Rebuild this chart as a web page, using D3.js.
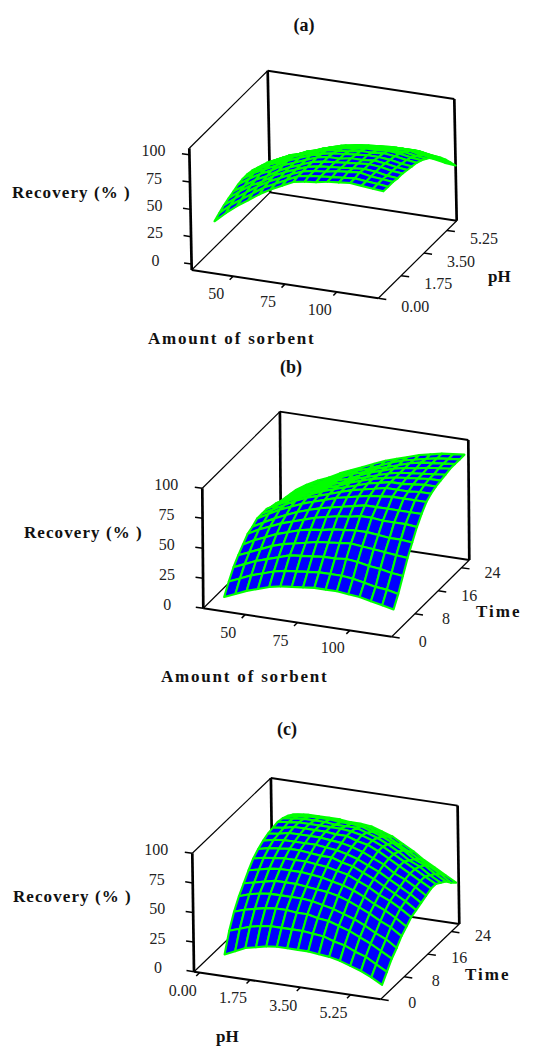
<!DOCTYPE html>
<html>
<head>
<meta charset="utf-8">
<title>Recovery surfaces</title>
<script src="https://cdn.jsdelivr.net/npm/d3@7"></script>
<style>
body { margin: 0; background: #fff; }
text { font-family: "Liberation Serif", serif; fill: #111; }
.tick-label { font-size: 16px; fill: #222; }
.axis-label { font-size: 17px; font-weight: bold; }
.panel-title { font-size: 18px; font-weight: bold; }
</style>
</head>
<body>
<div id="chart-container"></div>
<script>
// tick labels
var zTicks = [0, 25, 50, 75, 100];
var sorbentTicks = [50, 75, 100];
var phTicks = [0, 1.75, 3.5, 5.25];
var timeTicks = [0, 8, 16, 24];

// where the surface grid sits on each axis
var sorbentA = [38, 43.5, 49, 54.5, 60, 65.5, 71, 76.5, 82, 87.5, 93, 98.5, 104, 109.5, 115, 120];
var phA = [0.54, 0.9, 1.27, 1.63, 2, 2.36, 2.72, 3.09, 3.45, 3.82, 4.18, 4.55, 4.91, 5.27, 5.64, 6];
var sorbentB = [40, 45.4, 50.8, 56.2, 61.6, 67, 72.4, 77.8, 83.2, 88.6, 94, 99.4, 104.8, 110.2, 115.6, 121];
var timeB = [0, 1.64, 3.28, 4.92, 6.56, 8.2, 9.84, 11.48, 13.12, 14.76, 16.4, 18.04, 19.68, 21.32, 22.96, 24.6];
var phC = [0.82, 1.19, 1.55, 1.92, 2.28, 2.65, 3.01, 3.38, 3.74, 4.11, 4.47, 4.84, 5.2, 5.57, 5.93, 6.3];
var timeC = [0.53, 2.2, 3.9, 5.6, 7.27, 8.95, 10.6, 12.3, 14, 15.7, 17.4, 19, 20.7, 22.4, 24.1, 25.8];

// recovery (%), one row per depth step, front row first
var recoveryA = [
  [35, 44, 52, 59, 66, 72, 77, 82, 84, 85, 87, 88, 89, 88, 87, 86],
  [38, 47, 54, 61, 68, 73, 78, 83, 85, 86, 87, 88, 89, 88, 87, 86],
  [41, 49, 56, 63, 69, 74, 79, 83, 85, 86, 88, 89, 90, 88, 87, 86],
  [43, 51, 58, 63, 70, 75, 79, 83, 85, 86, 87, 88, 89, 88, 86, 85],
  [45, 52, 59, 64, 70, 75, 79, 83, 85, 86, 87, 88, 89, 88, 86, 85],
  [47, 54, 60, 65, 71, 75, 79, 83, 85, 85, 87, 87, 88, 87, 85, 84],
  [48, 55, 60, 65, 71, 75, 79, 82, 84, 85, 86, 87, 87, 86, 84, 83],
  [48, 54, 60, 64, 70, 74, 77, 81, 82, 83, 85, 85, 86, 85, 83, 82],
  [47, 53, 58, 63, 68, 72, 75, 78, 80, 81, 83, 83, 84, 83, 81, 80],
  [45, 51, 56, 60, 65, 68, 72, 75, 77, 78, 79, 80, 80, 80, 78, 77],
  [43, 48, 53, 57, 62, 65, 69, 72, 73, 75, 76, 77, 77, 77, 75, 74],
  [41, 46, 51, 54, 58, 62, 65, 68, 70, 71, 72, 73, 73, 73, 71, 70],
  [38, 43, 47, 50, 54, 57, 60, 63, 65, 66, 67, 68, 68, 68, 66, 65],
  [35, 39, 43, 46, 50, 52, 55, 58, 59, 60, 62, 62, 63, 62, 60, 59],
  [32, 36, 39, 42, 45, 47, 50, 52, 53, 54, 56, 56, 56, 55, 53, 52],
  [29, 32, 35, 37, 40, 42, 44, 46, 47, 48, 49, 49, 49, 48, 46, 45]
];
var recoveryB = [
  [12, 16, 20, 23, 26, 28, 29, 30, 31, 31, 31, 30, 29, 27, 25, 23],
  [21, 25, 29, 32, 35, 37, 38, 39, 40, 40, 40, 39, 37, 35, 34, 32],
  [29, 33, 37, 40, 43, 46, 47, 48, 49, 49, 50, 49, 47, 46, 44, 43],
  [35, 39, 43, 47, 50, 52, 54, 56, 57, 58, 59, 58, 57, 56, 55, 54],
  [40, 45, 49, 53, 56, 59, 61, 62, 64, 65, 66, 66, 65, 64, 64, 63],
  [45, 50, 54, 58, 61, 64, 67, 69, 71, 72, 74, 74, 73, 73, 73, 72],
  [47, 52, 57, 61, 65, 68, 71, 73, 75, 77, 79, 79, 79, 79, 79, 79],
  [50, 55, 60, 64, 68, 71, 74, 77, 79, 81, 83, 84, 85, 85, 85, 85],
  [50, 55, 60, 65, 69, 72, 75, 78, 81, 83, 85, 87, 87, 87, 88, 88],
  [50, 55, 60, 64, 68, 72, 75, 78, 81, 84, 86, 88, 88, 89, 90, 90],
  [48, 54, 59, 63, 67, 71, 74, 78, 81, 84, 86, 88, 89, 90, 91, 91],
  [47, 52, 57, 62, 66, 70, 73, 77, 80, 83, 86, 88, 89, 90, 91, 92],
  [45, 51, 56, 60, 65, 69, 72, 76, 80, 83, 86, 88, 89, 91, 92, 93],
  [44, 50, 55, 59, 64, 68, 72, 75, 79, 82, 85, 88, 90, 91, 92, 93],
  [43, 49, 54, 58, 63, 67, 71, 74, 78, 82, 85, 87, 89, 91, 92, 93],
  [42, 48, 53, 57, 62, 66, 70, 74, 78, 81, 84, 87, 89, 91, 92, 93]
];
var recoveryC = [
  [17, 21, 25, 27, 29, 30, 30, 30, 30, 29, 28, 26, 23, 20, 16, 11],
  [33, 36, 39, 41, 42, 42, 42, 42, 41, 40, 37, 35, 31, 28, 23, 18],
  [45, 48, 50, 52, 53, 53, 52, 52, 50, 49, 46, 43, 39, 35, 30, 25],
  [54, 57, 59, 60, 60, 60, 60, 59, 57, 55, 52, 49, 45, 40, 36, 30],
  [61, 63, 65, 67, 67, 67, 66, 65, 64, 62, 59, 55, 51, 46, 42, 36],
  [68, 70, 72, 73, 73, 73, 72, 71, 69, 67, 64, 60, 55, 51, 46, 40],
  [74, 76, 77, 78, 78, 78, 77, 76, 74, 72, 68, 64, 59, 55, 50, 44],
  [78, 80, 81, 82, 82, 81, 80, 80, 77, 75, 71, 67, 62, 57, 52, 46],
  [81, 83, 84, 84, 84, 84, 83, 82, 80, 77, 73, 69, 64, 59, 54, 48],
  [83, 84, 86, 86, 86, 86, 85, 84, 82, 79, 75, 71, 65, 61, 56, 50],
  [84, 85, 87, 87, 87, 87, 86, 86, 83, 81, 77, 72, 67, 62, 57, 52],
  [85, 86, 87, 87, 87, 87, 87, 86, 84, 81, 77, 72, 67, 62, 57, 52],
  [84, 85, 86, 86, 86, 85, 85, 85, 82, 79, 75, 70, 64, 60, 54, 49],
  [82, 83, 84, 84, 84, 83, 83, 82, 79, 76, 72, 67, 61, 57, 51, 46],
  [79, 80, 80, 80, 80, 79, 79, 78, 75, 72, 67, 62, 57, 52, 47, 41],
  [75, 76, 76, 76, 76, 75, 75, 74, 71, 68, 63, 58, 52, 47, 42, 37]
];

var svg = d3.select("#chart-container")
    .append("svg")
    .attr("width", 537)
    .attr("height", 1048);

var panels = [
  {
    title: "(a)", titleX: 304, titleY: 31,
    origin: [191.7, 270], xVec: [186.6, 28.3], depthVec: [78.4, -77.6], upVec: [-2.4, -121.7],
    xDomain: [30, 120], depthDomain: [0, 6], zDomain: [-5.5, 105.9],
    xTicks: sorbentTicks, xFormat: d3.format("d"),
    depthTicks: phTicks, depthFormat: d3.format(".2f"), depthOffset: [37, 8],
    xs: sorbentA, ds: phA, zs: recoveryA,
    zLabel: [12, 198], xLabel: ["Amount of sorbent", 148, 344, 1.8], depthLabel: ["pH", 488, 282, 0]
  },
  {
    title: "(b)", titleX: 291, titleY: 372.5,
    origin: [203.3, 608.3], xVec: [188.4, 28.4], depthVec: [77.6, -76.7], upVec: [-1, -120],
    xDomain: [30, 120], depthDomain: [0, 26.67], zDomain: [0, 100],
    xTicks: sorbentTicks, xFormat: d3.format("d"),
    depthTicks: timeTicks, depthFormat: d3.format("d"), depthOffset: [31, 4.3],
    xs: sorbentB, ds: timeB, zs: recoveryB,
    zLabel: [24, 538], xLabel: ["Amount of sorbent", 161, 682, 1.8], depthLabel: ["Time", 476, 617, 2]
  },
  {
    title: "(c)", titleX: 287, titleY: 735,
    origin: [194, 971.7], xVec: [186.7, 27.6], depthVec: [78.6, -75.3], upVec: [-1.7, -118.4],
    xDomain: [-0.2, 6.3], depthDomain: [0, 26.67], zDomain: [0, 100],
    xTicks: phTicks, xFormat: d3.format(".2f"),
    depthTicks: timeTicks, depthFormat: d3.format("d"), depthOffset: [31.5, 3.5],
    xs: phC, ds: timeC, zs: recoveryC,
    zLabel: [13, 902], xLabel: ["pH", 216, 1042, 0], depthLabel: ["Time", 465, 980, 2]
  }
];

var polygon = d3.line().curve(d3.curveLinearClosed);

panels.forEach(function(p) {
  var x = d3.scaleLinear().domain(p.xDomain).range([0, 1]);
  var y = d3.scaleLinear().domain(p.depthDomain).range([0, 1]);
  var z = d3.scaleLinear().domain(p.zDomain).range([0, 1]);

  // box space (0-1 on each edge) to the page
  function project(u, v, t) {
    return [
      p.origin[0] + u * p.xVec[0] + v * p.depthVec[0] + t * p.upVec[0],
      p.origin[1] + u * p.xVec[1] + v * p.depthVec[1] + t * p.upVec[1]
    ];
  }

  var g = svg.append("g");

  function edge(a, b, w) {
    g.append("line")
      .attr("x1", a[0]).attr("y1", a[1])
      .attr("x2", b[0]).attr("y2", b[1])
      .attr("stroke", "#000")
      .attr("stroke-width", w);
  }

  // box
  edge(project(0, 0, 0), project(0, 1, 0), 1.2);
  edge(project(0, 1, 0), project(1, 1, 0), 1.9);
  edge(project(1, 0, 0), project(1, 1, 0), 1.2);
  edge(project(0, 0, 0), project(1, 0, 0), 2);
  edge(project(0, 0, 0), project(0, 0, 1), 2.7);
  edge(project(0, 1, 0), project(0, 1, 1), 2.7);
  edge(project(1, 1, 0), project(1, 1, 1), 2.7);
  edge(project(0, 0, 1), project(0, 1, 1), 1.2);
  edge(project(0, 1, 1), project(1, 1, 1), 1.9);

  // ticks and their labels
  zTicks.forEach(function(d) {
    var a = project(0, 0, z(d));
    edge(a, [a[0] - 7.5, a[1] - 1.1], 1.5);
    g.append("text").attr("class", "tick-label")
      .attr("x", a[0] - 36).attr("y", a[1] - 4).attr("dy", "0.35em")
      .attr("text-anchor", "middle").text(d);
  });
  p.xTicks.forEach(function(d) {
    var a = project(x(d), 0, 0);
    edge(a, [a[0] - 3.5, a[1] + 3.5], 1.5);
    g.append("text").attr("class", "tick-label")
      .attr("x", a[0] - 17).attr("y", a[1] + 17.5).attr("dy", "0.35em")
      .attr("text-anchor", "middle").text(p.xFormat(d));
  });
  p.depthTicks.forEach(function(d) {
    var a = project(1, y(d), 0);
    edge(a, [a[0] + 8, a[1] + 1.2], 1.5);
    g.append("text").attr("class", "tick-label")
      .attr("x", a[0] + p.depthOffset[0]).attr("y", a[1] + p.depthOffset[1]).attr("dy", "0.35em")
      .attr("text-anchor", "middle").text(p.depthFormat(d));
  });

  // surface, far rows first so nearer cells paint over them
  var corner = function(i, j) {
    return project(x(p.xs[i]), y(p.ds[j]), z(p.zs[j][i]));
  };
  for (var j = p.ds.length - 2; j >= 0; j--) {
    for (var i = 0; i < p.xs.length - 1; i++) {
      g.append("path")
        .attr("d", polygon([corner(i, j), corner(i + 1, j), corner(i + 1, j + 1), corner(i, j + 1)]))
        .attr("fill", "#0000ff")
        .attr("stroke", "#00ff00")
        .attr("stroke-width", 2.1)
        .attr("stroke-linejoin", "round");
    }
  }

  g.append("text").attr("class", "panel-title")
    .attr("x", p.titleX).attr("y", p.titleY)
    .attr("text-anchor", "middle").text(p.title);
  g.append("text").attr("class", "axis-label")
    .attr("x", p.zLabel[0]).attr("y", p.zLabel[1])
    .style("letter-spacing", "1.08px").text("Recovery (% )");
  g.append("text").attr("class", "axis-label")
    .attr("x", p.xLabel[1]).attr("y", p.xLabel[2])
    .style("letter-spacing", p.xLabel[3] + "px").text(p.xLabel[0]);
  g.append("text").attr("class", "axis-label")
    .attr("x", p.depthLabel[1]).attr("y", p.depthLabel[2])
    .style("letter-spacing", p.depthLabel[3] + "px").text(p.depthLabel[0]);
});
</script>
</body>
</html>
